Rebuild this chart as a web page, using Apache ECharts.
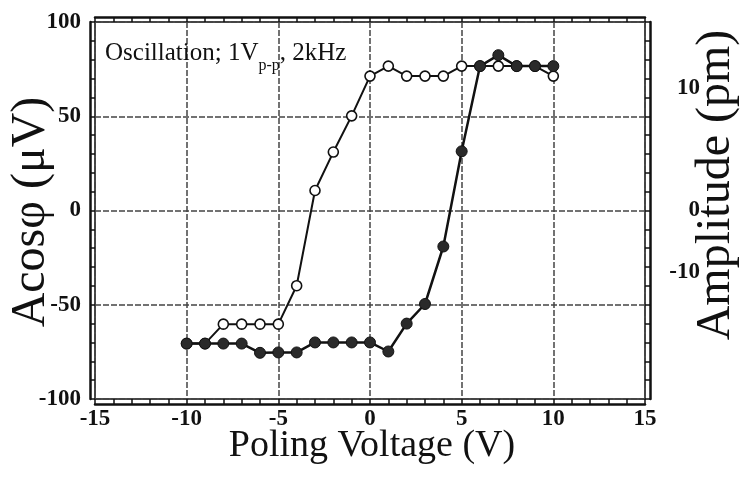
<!DOCTYPE html>
<html>
<head>
<meta charset="utf-8">
<script src="https://cdn.jsdelivr.net/npm/echarts@6/dist/echarts.min.js"></script>
<style>
html,body{margin:0;padding:0;background:#fff;}
#chart{width:744px;height:478px;}
</style>
</head>
<body>
<div id="chart"></div>
<script>
// ---- data ----
var voltages = [-10,-9,-8,-7,-6,-5,-4,-3,-2,-1,0,1,2,3,4,5,6,7,8,9,10];
var openValues = [-70.6,-70.6,-60.3,-60.3,-60.3,-60.3,-39.9,10.6,31,50.2,71.3,76.6,71.3,71.3,71.3,76.6,76.6,76.6,76.6,76.6,71.3];
var filledValues = [-70.6,-70.6,-70.6,-70.6,-75.5,-75.3,-75.3,-70,-70,-70,-70,-74.8,-60,-49.6,-19.1,31.4,76.6,82.4,76.6,76.6,76.6];
var xTicks = [-15,-10,-5,0,5,10,15];
var yTicks = [-100,-50,0,50,100];
// right-axis (Amplitude) labels and the left-scale positions where they sit
var ampLabels = ['10','0','-10'];
var ampPositions = [65,0,-32.5];
var xTitle = 'Poling Voltage (V)';
var yTitle = 'Acosφ (μV)';
var y2Title = 'Amplitude (pm)';

var pairs = function(vals){ return voltages.map(function(v,i){ return [v, vals[i]]; }); };

var serif = '"Liberation Serif","DejaVu Serif",serif';
var ladderTick = {show:true, inside:true, length:5, lineStyle:{color:'#111', width:1.5}};
var ladderMinor = {show:true, splitNumber:5, length:5, lineStyle:{color:'#111', width:1.5}};
var frameLine = {show:true, onZero:false, lineStyle:{color:'#111', width:2.5}};
var gridLine = {show:true, lineStyle:{color:'#444', width:1.5, type:[6,2]}};

var chart = echarts.init(document.getElementById('chart'), null, {renderer:'canvas'});
chart.setOption({
  backgroundColor:'#fff',
  animation:false,
  grid:{left:95, right:99, top:22, bottom:79, show:true, borderColor:'#111', borderWidth:1.5, containLabel:false},
  xAxis:[{
    type:'value', min:xTicks[0], max:xTicks[xTicks.length-1], interval:5, position:'bottom', offset:5,
    axisLine:frameLine, axisTick:ladderTick, minorTick:ladderMinor,
    splitLine:gridLine,
    axisLabel:{show:true, margin:4, color:'#111', fontFamily:serif, fontWeight:'bold', fontSize:23,
      customValues:xTicks, formatter:function(v){return String(v);} }
  },{
    type:'value', min:xTicks[0], max:xTicks[xTicks.length-1], interval:5, position:'top', offset:5,
    axisLine:frameLine, axisTick:ladderTick, minorTick:ladderMinor,
    splitLine:{show:false}, axisLabel:{show:false}
  }],
  yAxis:[{
    type:'value', min:yTicks[0], max:yTicks[yTicks.length-1], interval:50, position:'left', offset:5,
    axisLine:frameLine, axisTick:ladderTick, minorTick:ladderMinor,
    splitLine:gridLine,
    axisLabel:{show:true, margin:9, color:'#111', fontFamily:serif, fontWeight:'bold', fontSize:23,
      customValues:yTicks, formatter:function(v){return String(v);} }
  },{
    type:'value', min:yTicks[0], max:yTicks[yTicks.length-1], interval:50, position:'right', offset:5,
    axisLine:frameLine, axisTick:ladderTick, minorTick:ladderMinor,
    splitLine:{show:false},
    axisLabel:{show:true, margin:50, align:'right', color:'#111', fontFamily:serif, fontWeight:'bold', fontSize:23,
      customValues:ampPositions,
      formatter:function(v){ var i = ampPositions.indexOf(v); return i>=0 ? ampLabels[i] : ''; } }
  }],
  series:[{
    name:'open', type:'line', xAxisIndex:0, yAxisIndex:0, data:pairs(openValues),
    symbol:'circle', symbolSize:10, z:2,
    lineStyle:{color:'#111', width:2},
    itemStyle:{color:'#fff', borderColor:'#111', borderWidth:1.6}
  },{
    name:'filled', type:'line', xAxisIndex:0, yAxisIndex:0, data:pairs(filledValues),
    symbol:'circle', symbolSize:11, z:3,
    lineStyle:{color:'#111', width:2.5},
    itemStyle:{color:'#2a2a2a', borderColor:'#111', borderWidth:1}
  }],
  graphic:[{
    type:'text', x:372, y:446, z:10,
    style:{text:xTitle, font:'38px '+serif, fill:'#111', textAlign:'center', textVerticalAlign:'middle'}
  },{
    type:'text', x:31, y:212, rotation:Math.PI/2, z:10,
    style:{text:yTitle, font:'48px '+serif, fill:'#111', textAlign:'center', textVerticalAlign:'middle'}
  },{
    type:'text', x:716, y:185, rotation:Math.PI/2, z:10,
    style:{text:y2Title, font:'48px '+serif, fill:'#111', textAlign:'center', textVerticalAlign:'middle'}
  },{
    type:'text', x:105, y:41, z:10,
    style:{
      text:'{a|Oscillation; 1V}{b|p-p}{a|, 2kHz}',
      fill:'#111',
      rich:{
        a:{fontFamily:serif, fontSize:25, lineHeight:28, verticalAlign:'top', fill:'#111'},
        b:{fontFamily:serif, fontSize:16, lineHeight:33, verticalAlign:'bottom', fill:'#111'}
      }
    }
  }]
});
</script>
</body>
</html>
